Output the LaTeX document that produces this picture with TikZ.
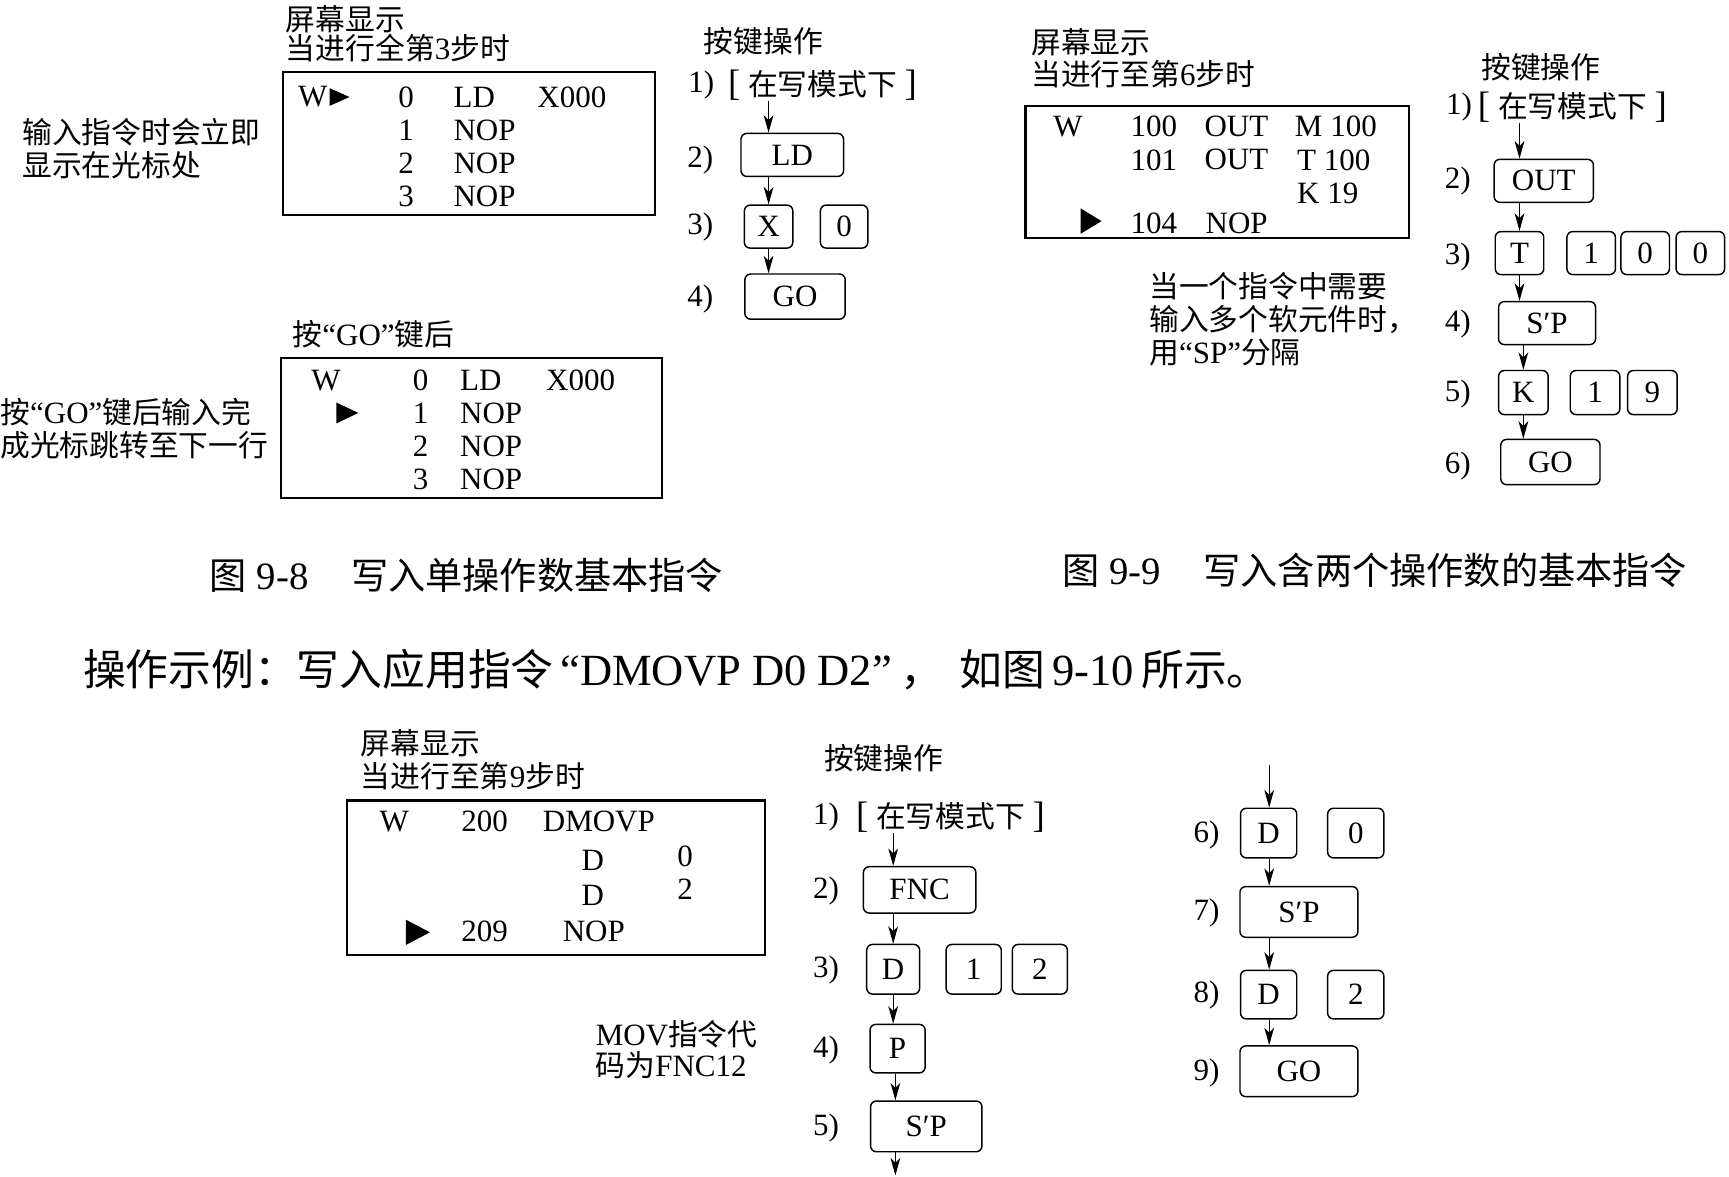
\documentclass[tikz,border=0pt]{standalone}
\usepackage{fontspec}
\setmainfont{Liberation Serif}
\newfontfamily\cjk[Scale=0.96]{Noto Sans CJK SC}
\newcommand{\zh}[1]{{\cjk #1}}
\newcommand{\wmode}{{\fontsize{19}{19}\selectfont[}\hspace{0.25em}\zh{在写模式下}\hspace{0.25em}{\fontsize{19}{19}\selectfont]}}
\usetikzlibrary{arrows.meta}
\tikzset{
  txt/.style={font=\fontsize{16}{19}\selectfont, inner sep=0pt, anchor=west},
  zhtxt/.style={txt, font=\fontsize{16}{19}\selectfont\cjk},
  capfont/.style={font=\fontsize{20}{24}\selectfont},
  screen/.style={draw, line width=1.1pt},
  key/.style 2 args={draw, rounded corners=3pt, line width=0.75pt, inner sep=0pt,
    font=\fontsize{16}{19}\selectfont, minimum width=#1*0.02cm, minimum height=#2*0.02cm},
  arr/.style={-{Stealth[length=9pt,width=5pt,inset=2.5pt]}, line width=0.65pt},
  cursor/.style={fill=black},
}

\begin{document}
\begin{tikzpicture}[x=0.02cm, y=-0.02cm]
\useasboundingbox (0,0) rectangle (1568,1067);

% Fig 9-8: screen while typing
\node[zhtxt] (capA1) at (259,17) {屏幕显示};
\node[txt] (capA2) at (259,44) {\zh{当进行全第}3\zh{步时}};
\draw[screen] (257,65) rectangle (594,195);
\node[txt] (wA) at (270,88) {W};
\fill[cursor] (299,80) -- (317,88) -- (299,96) -- cycle;
\node[txt] (nA0) at (361,88) {0};
\node[txt] (iA0) at (411,88) {LD};
\node[txt] (oA0) at (487,88) {X000};
\foreach \n/\y in {1/118, 2/148, 3/178}{
  \node[txt] (nA\n) at (361,\y) {\n};
  \node[txt] (iA\n) at (411,\y) {NOP};
}
\node[zhtxt] (noteA1) at (20,120) {输入指令时会立即};
\node[zhtxt] (noteA2) at (20,150) {显示在光标处};

% Fig 9-8: screen after GO
\node[txt] (capB) at (265,303) {\zh{按}“GO”\zh{键后}};
\draw[screen] (255,325) rectangle (600,452);
\node[txt] (wB) at (282,345) {W};
\fill[cursor] (305,365) -- (325,374.5) -- (305,384) -- cycle;
\node[txt] (nB0) at (374,345) {0};
\node[txt] (iB0) at (417,345) {LD};
\node[txt] (oB0) at (495,345) {X000};
\foreach \n/\y in {1/375, 2/405, 3/435}{
  \node[txt] (nB\n) at (374,\y) {\n};
  \node[txt] (iB\n) at (417,\y) {NOP};
}
\node[txt] (noteB1) at (0,374) {\zh{按}“GO”\zh{键后输入完}};
\node[zhtxt] (noteB2) at (0,404) {成光标跳转至下一行};

% Fig 9-8: keys
\node[zhtxt] (opA) at (638,37) {按键操作};
\node[txt] (sA1) at (624,77) {1)};
\node[txt] (modeA) at (660,77) {\wmode};
\node[key={93}{39}] (ldA) at (718.5,140.5) {LD};
\node[txt] (sA2) at (623,145) {2)};
\node[key={44}{39}] (xA) at (697,205.5) {X};
\node[key={43}{39}] (x0A) at (765.5,205.5) {0};
\node[txt] (sA3) at (623,206) {3)};
\node[key={91}{41}] (goA) at (721,269) {GO};
\node[txt] (sA4) at (623,271) {4)};
\draw[arr] (modeA.south -| xA) -- (ldA.north -| xA);
\draw[arr] (ldA.south -| xA) -- (xA.north);
\draw[arr] (xA.south) -- (goA.north -| xA);

% captions
\node[txt, capfont] (figA) at (190,522) {\zh{图}\hspace{0.25em}9-8\hspace{1.1em}\zh{写入单操作数基本指令}};
\node[txt, capfont] (figB) at (963,517) {\zh{图}\hspace{0.25em}9-9\hspace{1.1em}\zh{写入含两个操作数的基本指令}};
\node[txt, font=\fontsize{23}{27}\selectfont] (body) at (75,607)
  {\zh{操作示例：写入应用指令}\hspace{0.15em}“DMOVP D0 D2”\hspace{0.2em}\zh{，}\hspace{0.35em}\zh{如图}\,9-10\,\zh{所示。}};

% Fig 9-9: screen
\node[zhtxt] (capC1) at (935,38) {屏幕显示};
\node[txt] (capC2) at (935,67) {\zh{当进行至第}6\zh{步时}};
\draw[screen] (930,96) rectangle (1278,216);
\node[txt] (wC) at (955,115) {W};
\node[txt] (nC0) at (1025,115) {100};
\node[txt] (iC0) at (1092,115) {OUT};
\node[txt] (oC0) at (1174,115) {M 100};
\node[txt] (nC1) at (1025,145) {101};
\node[txt] (iC1) at (1092,145) {OUT};
\node[txt] (oC1) at (1176,145) {T 100};
\node[txt] (oC2) at (1176,175) {K 19};
\fill[cursor] (980,189) -- (999,200.5) -- (980,212) -- cycle;
\node[txt] (nC3) at (1025,203) {104};
\node[txt] (iC3) at (1093,203) {NOP};
\node[zhtxt] (noteC1) at (1042,260) {当一个指令中需要};
\node[zhtxt] (noteC2) at (1042,290) {输入多个软元件时，};
\node[txt] (noteC3) at (1042,320) {\zh{用}“SP”\zh{分隔}};

% Fig 9-9: keys
\node[zhtxt] (opC) at (1343,61) {按键操作};
\node[txt] (sC1) at (1311,97) {1)};
\node[txt] (modeC) at (1340,97) {\wmode};
\node[key={90}{39}] (outC) at (1400,164) {OUT};
\node[txt] (sC2) at (1310,164) {2)};
\node[key={44}{39}] (tC) at (1378,229.5) {T};
\node[key={44}{39}] (c1C) at (1443,229.5) {1};
\node[key={44}{39}] (c0C) at (1492,229.5) {0};
\node[key={44}{39}] (c00C) at (1542,229.5) {0};
\node[txt] (sC3) at (1310,233) {3)};
\node[key={88}{39}] (spC) at (1403,293) {S′P};
\node[txt] (sC4) at (1310,294) {4)};
\node[key={45}{40}] (kC) at (1381.5,356) {K};
\node[key={45}{40}] (k1C) at (1446.5,356) {1};
\node[key={45}{40}] (k9C) at (1498.5,356) {9};
\node[txt] (sC5) at (1310,357) {5)};
\node[key={90}{41}] (goC) at (1406,419) {GO};
\node[txt] (sC6) at (1310,423) {6)};
\draw[arr] (modeC.south -| tC) -- (outC.north -| tC);
\draw[arr] (outC.south -| tC) -- (tC.north);
\draw[arr] (tC.south) -- (spC.north -| tC);
\draw[arr] (spC.south -| kC) -- (kC.north);
\draw[arr] (kC.south) -- (goC.north -| kC);

% Fig 9-10: screen
\node[zhtxt] (capD1) at (327,674) {屏幕显示};
\node[txt] (capD2) at (327,704) {\zh{当进行至第}9\zh{步时}};
\draw[screen] (315,726) rectangle (694,866);
\node[txt] (wD) at (344,745) {W};
\node[txt] (nD0) at (418,745) {200};
\node[txt] (iD0) at (492,745) {DMOVP};
\node[txt] (dD1) at (527,780) {D};
\node[txt] (vD1) at (614,777) {0};
\node[txt] (dD2) at (527,812) {D};
\node[txt] (vD2) at (614,806) {2};
\fill[cursor] (368,834) -- (390,845.5) -- (368,857) -- cycle;
\node[txt] (nD3) at (418,845) {209};
\node[txt] (iD3) at (510,845) {NOP};

% Fig 9-10: keys, first column
\node[zhtxt] (opD) at (747,688) {按键操作};
\node[txt] (sD1) at (737,741) {1)};
\node[txt] (modeD) at (776,741) {\wmode};
\node[key={102}{42}] (fncD) at (834,807) {FNC};
\node[txt] (sD2) at (737,808) {2)};
\node[key={48}{45}] (dD) at (810,879) {D};
\node[key={50}{45}] (d1D) at (883,879) {1};
\node[key={50}{45}] (d2D) at (943,879) {2};
\node[txt] (sD3) at (737,880) {3)};
\node[key={50}{44}] (pD) at (814,951) {P};
\node[txt] (sD4) at (737,952) {4)};
\node[key={101}{46}] (spD) at (840,1021.5) {S′P};
\node[txt] (sD5) at (737,1023) {5)};
\coordinate (endD) at (812,1066);
\node[txt] (movD1) at (540,938) {MOV\zh{指令代}};
\node[txt] (movD2) at (540,966) {\zh{码为}FNC12};
\draw[arr] (modeD.south -| dD) -- (fncD.north -| dD);
\draw[arr] (fncD.south -| dD) -- (dD.north);
\draw[arr] (dD.south) -- (pD.north -| dD);
\draw[arr] (pD.south -| endD) -- (spD.north -| endD);
\draw[arr] (spD.south -| endD) -- (endD);

% Fig 9-10: keys, second column
\coordinate (startE) at (1151,694);
\node[key={51}{45}] (dE) at (1150.5,755.5) {D};
\node[key={51}{45}] (d0E) at (1229.5,755.5) {0};
\node[txt] (sE6) at (1082,757) {6)};
\node[key={107}{46}] (spE) at (1178,827) {S′P};
\node[txt] (sE7) at (1082,828) {7)};
\node[key={51}{44}] (dF) at (1150.5,902) {D};
\node[key={51}{44}] (d2F) at (1229.5,902) {2};
\node[txt] (sE8) at (1082,902) {8)};
\node[key={107}{46}] (goE) at (1178,971.5) {GO};
\node[txt] (sE9) at (1082,973) {9)};
\draw[arr] (startE) -- (dE.north -| startE);
\draw[arr] (dE.south -| startE) -- (spE.north -| startE);
\draw[arr] (spE.south -| startE) -- (dF.north -| startE);
\draw[arr] (dF.south -| startE) -- (goE.north -| startE);
\end{tikzpicture}
\end{document}
